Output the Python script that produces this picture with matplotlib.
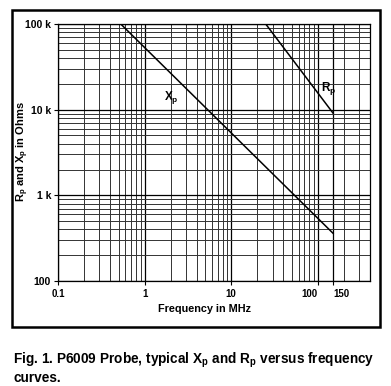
import numpy as np
import matplotlib
matplotlib.use("Agg")
import matplotlib.pyplot as plt
from matplotlib.patches import Rectangle

plt.rcParams['font.family'] = ['Liberation Sans', 'DejaVu Sans']
plt.rcParams['mathtext.fontset'] = 'custom'
plt.rcParams['mathtext.rm'] = 'Liberation Sans:bold'
plt.rcParams['mathtext.default'] = 'rm'

# --- Datos ---
xp_freq = [0.53, 150]          # MHz
xp_ohms = [100000, 360]
rp_freq = [25, 150]
rp_ohms = [100000, 9100]

x_ticks = [0.1, 1, 10, 100, 150]
x_labels = ['0.1', '1', '10', '100', '150']
y_ticks = [100, 1000, 10000, 100000]
y_labels = ['100', '1 k', '10 k', '100 k']

W, H = 391, 386
fig = plt.figure(figsize=(W / 100, H / 100), dpi=100)

# marco exterior
fig.patches.append(Rectangle((12 / W, 1 - 327 / H), 368 / W, 317 / H,
                             transform=fig.transFigure, fill=False,
                             lw=1.8, ec='black'))

ax = fig.add_axes([58 / W, 1 - 281 / H, 312 / W, 257 / H])
ax.set_xscale('log')
ax.set_yscale('log')
ax.set_xlim(0.1, 400)
ax.set_ylim(100, 100000)

# rejilla
ax.grid(True, which='major', color='black', lw=0.9)
ax.grid(True, which='minor', color='0.2', lw=0.7)
ax.set_axisbelow(True)

ax.plot(xp_freq, xp_ohms, color='black', lw=1.1)
ax.plot(rp_freq, rp_ohms, color='black', lw=1.1)

ax.text(2.05, 14000, 'X$_\\mathrm{p}$', fontsize=8.5, fontweight='bold',
        ha='center', va='center')
ax.text(135, 17500, 'R$_\\mathrm{p}$', fontsize=8.5, fontweight='bold',
        ha='center', va='center')

ax.set_xticks(x_ticks)
ax.set_xticklabels(x_labels)
ax.set_yticks(y_ticks)
ax.set_yticklabels(y_labels)
ax.tick_params(which='minor', length=0)
ax.tick_params(which='major', length=3, width=0.8, labelsize=7.5, pad=2)
ax.tick_params(axis='x', labelsize=7, pad=3)
for lab in ax.get_xticklabels() + ax.get_yticklabels():
    lab.set_fontweight('bold')
xl = ax.get_xticklabels()
xl[3].set_horizontalalignment('right')
xl[3].set_x(108)
xl[4].set_horizontalalignment('left')
xl[4].set_x(140)

for s in ax.spines.values():
    s.set_linewidth(0.9)

ax.set_xlabel('Frequency in MHz', fontsize=7.8, fontweight='bold')
ax.xaxis.set_label_coords((204 - 58) / 312, -(304 - 281) / 257)
fig.text(23 / W, 1 - 152 / H, 'R$_\\mathrm{p}$ and X$_\\mathrm{p}$ in Ohms',
         fontsize=8, fontweight='bold', rotation=90, ha='center', va='center')

fig.text(13 / W, 1 - 360 / H,
         'Fig. 1. P6009 Probe, typical X$_\\mathrm{p}$ and R$_\\mathrm{p}$ versus frequency',
         fontsize=9.8, fontweight='bold', va='center', ha='left')
fig.text(13 / W, 1 - 378 / H, 'curves.', fontsize=9.8, fontweight='bold',
         va='center', ha='left')

fig.savefig('out.png', dpi=100)
